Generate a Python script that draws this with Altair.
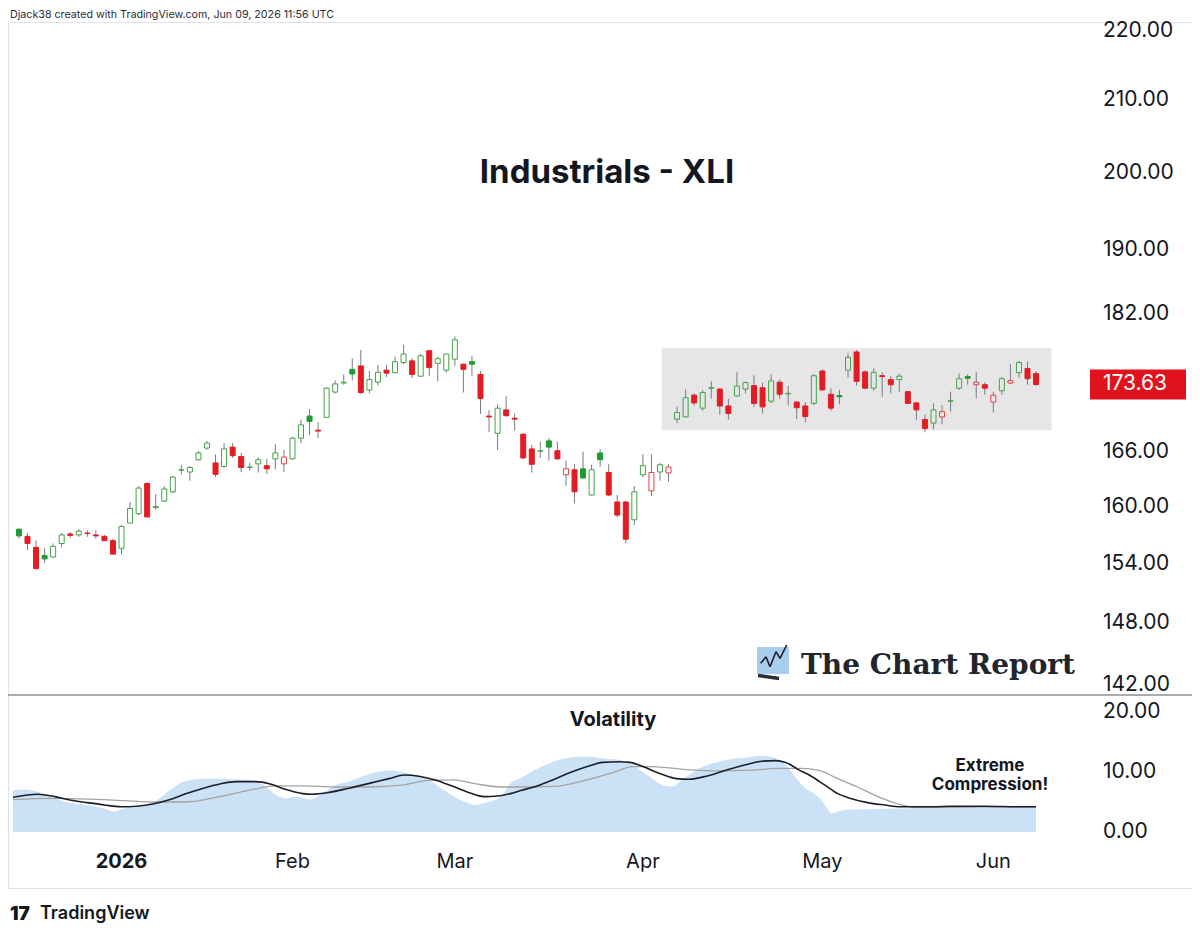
import altair as alt
import pandas as pd

# ---------------- data ----------------
OPEN = [157.6, 156.85, 155.7, 154.85, 154.7, 156.1, 157.1, 157.0, 157.2, 157.0,
        156.85, 156.4, 155.6, 158.25, 159.25, 162.5, 159.9, 160.6, 161.6, 163.95,
        163.75, 165.1, 166.4, 164.75, 164.35, 166.5, 165.45, 164.25, 164.65, 164.45,
        165.2, 164.65, 165.2, 167.5, 170.0, 168.4, 169.85, 172.75, 173.8, 175.4,
        175.8, 173.0, 173.9, 175.3, 175.0, 176.2, 176.4, 174.6, 177.6, 176.1,
        175.3, 176.6, 176.0, 176.3, 174.8, 170.0, 168.05, 170.7, 169.75, 167.95,
        166.3, 166.05, 167.2, 166.1, 163.45, 164.0, 164.1, 161.25, 165.85, 163.7,
        160.5, 160.5, 158.6, 163.45, 161.7, 163.75, 163.65, 169.65, 169.9, 172.4,
        170.9, 173.2, 173.1, 171.15, 172.3, 173.1, 173.5, 173.25, 171.7, 173.9,
        172.55, 171.6, 171.15, 171.45, 175.2, 172.5, 172.35, 175.3, 177.45, 175.1,
        173.2, 174.65, 174.2, 174.2, 172.8, 171.5, 169.6, 169.2, 169.9, 171.7,
        173.2, 174.55, 173.6, 173.6, 171.6, 172.9, 173.8, 175.0, 175.5, 174.9]
HIGH = [157.7, 157.2, 156.4, 155.6, 156.1, 157.2, 157.3, 157.6, 157.5, 157.5,
        157.0, 156.6, 158.0, 160.5, 162.2, 162.6, 161.35, 162.2, 163.35, 164.55,
        164.4, 166.05, 167.2, 165.7, 166.95, 166.95, 165.85, 164.75, 165.4, 165.2,
        166.85, 166.2, 167.65, 169.6, 170.8, 169.3, 173.3, 174.1, 174.8, 176.7,
        177.7, 175.2, 175.9, 175.9, 176.9, 178.3, 176.7, 177.2, 177.7, 176.9,
        177.2, 179.3, 176.1, 177.0, 175.2, 170.7, 171.35, 172.3, 170.3, 168.05,
        166.75, 167.1, 167.5, 167.1, 165.0, 164.6, 166.0, 164.55, 166.3, 164.6,
        161.25, 160.6, 162.2, 165.7, 165.7, 164.75, 164.65, 171.1, 173.05, 172.6,
        173.0, 174.0, 173.2, 172.0, 175.05, 174.0, 174.7, 173.85, 174.8, 174.2,
        173.45, 171.7, 171.6, 174.85, 175.4, 173.2, 173.0, 177.3, 177.7, 175.3,
        175.5, 175.05, 174.6, 174.9, 172.8, 171.6, 170.15, 171.45, 171.25, 172.8,
        174.9, 174.8, 175.05, 173.9, 172.8, 174.5, 176.0, 176.4, 176.3, 175.2]
LOW = [156.6, 155.4, 153.4, 154.1, 154.6, 155.7, 156.7, 156.8, 156.8, 156.6,
       156.35, 154.95, 154.95, 158.2, 159.1, 158.85, 159.7, 160.5, 161.45, 163.45,
       162.8, 165.0, 166.2, 163.2, 164.25, 165.3, 163.75, 163.9, 163.7, 163.55,
       164.05, 163.75, 165.1, 166.95, 167.85, 167.5, 169.8, 172.6, 173.6, 174.1,
       172.5, 172.6, 173.5, 174.5, 174.95, 176.0, 174.4, 174.5, 174.6, 174.0,
       175.0, 175.8, 172.7, 174.6, 170.25, 168.2, 166.2, 169.9, 168.35, 165.2,
       163.7, 165.3, 165.0, 165.1, 162.25, 160.35, 163.0, 161.2, 164.35, 161.15,
       158.85, 156.15, 158.05, 163.2, 161.15, 162.8, 162.7, 169.2, 169.8, 171.2,
       170.6, 172.0, 170.15, 169.6, 172.2, 172.6, 171.05, 170.3, 171.5, 172.0,
       171.2, 169.65, 169.3, 171.25, 172.9, 170.6, 171.35, 174.4, 173.5, 173.1,
       172.9, 172.2, 172.6, 172.8, 171.35, 169.6, 168.15, 168.5, 169.05, 170.5,
       173.0, 173.6, 172.0, 172.45, 170.4, 172.4, 173.7, 174.4, 173.6, 173.45]
CLOSE = [156.9, 156.1, 153.5, 154.5, 155.8, 157.0, 156.95, 157.4, 157.15, 156.9,
         156.4, 155.0, 157.9, 159.8, 162.0, 158.9, 160.0, 161.9, 163.2, 164.0,
         164.25, 165.85, 166.95, 163.5, 166.3, 165.55, 164.25, 164.3, 165.1, 164.1,
         165.85, 165.4, 167.5, 169.0, 169.4, 168.3, 173.2, 173.7, 173.9, 174.85,
         172.7, 174.2, 175.05, 174.95, 176.3, 177.2, 174.8, 177.0, 175.6, 176.65,
         177.2, 178.9, 175.4, 176.0, 172.0, 169.9, 170.9, 170.05, 169.65, 165.3,
         164.6, 166.1, 166.5, 165.2, 164.1, 161.6, 163.1, 164.0, 165.1, 161.25,
         159.1, 156.55, 161.6, 164.45, 163.7, 164.55, 164.3, 170.4, 172.1, 171.5,
         172.7, 173.25, 171.15, 170.3, 173.45, 173.85, 171.45, 171.05, 174.05, 172.5,
         172.6, 170.95, 169.95, 174.65, 173.0, 170.9, 172.2, 176.8, 174.0, 173.2,
         175.05, 174.55, 173.6, 174.6, 171.45, 170.7, 168.6, 170.7, 170.5, 171.75,
         174.3, 174.35, 173.9, 173.2, 172.4, 174.3, 174.1, 176.2, 174.3, 173.63]
PREV_CLOSE = 156.5          # close of the bar before the first visible one
LAST_PRICE = 173.63

# consolidation box (bar index range, price range)
BOX_IDX = [75.2, 120.8]
BOX_PRICE = [177.9, 168.4]

PRICE_TICKS = [142, 148, 154, 160, 166, 182, 190, 200, 210, 220]
VOL_TICKS = [0, 10, 20]

MONTH_IDX = [12, 32, 51, 73, 94, 114]
MONTH_LABELS = ["2026", "Feb", "Mar", "Apr", "May", "Jun"]

# volatility panel (bar index, value)
VOL_AREA_X = [-0.7, 0.7, 2.2, 4.2, 6.1, 8.0, 10.0, 11.1, 12.3, 14.6, 16.1, 17.7, 19.3, 20.8,
              22.7, 24.7, 26.2, 27.7, 28.9, 30.0, 31.2, 32.4, 34.0, 35.5, 37.0, 38.6, 40.1,
              41.6, 43.6, 44.8, 46.3, 47.9, 49.4, 50.9, 52.6, 53.2, 54.9, 56.4, 57.5, 58.7,
              60.7, 62.5, 64.5, 66.5, 68.3, 70.3, 71.8, 73.0, 74.1, 75.3, 76.5, 77.6, 79.2,
              81.1, 83.1, 85.0, 86.9, 88.5, 89.7, 90.8, 92.0, 93.5, 94.7, 95.0, 96.6, 99.3,
              103.1, 107.1, 110.9, 114.7, 117.1, 119.0]
VOL_AREA_Y = [7.0, 7.1, 6.7, 5.6, 4.8, 4.5, 3.9, 3.4, 3.9, 4.3, 5.3, 7.0, 8.4, 8.8,
              8.9, 8.8, 8.7, 8.4, 7.6, 6.2, 5.6, 5.9, 5.4, 6.4, 7.8, 8.4, 9.2,
              9.9, 10.3, 10.0, 9.5, 8.7, 7.3, 5.9, 4.8, 4.5, 5.0, 5.9, 8.1, 9.0,
              10.6, 11.7, 12.4, 12.6, 12.3, 12.0, 11.3, 10.0, 8.9, 7.8, 7.6, 8.7, 10.3,
              11.4, 12.1, 12.4, 12.7, 12.3, 11.2, 9.2, 7.3, 5.9, 3.7, 3.1, 3.7, 3.8,
              3.9, 4.1, 4.2, 4.2, 4.2, 4.2]
VOL_FAST_X = [-0.7, 2.2, 4.2, 6.1, 8.0, 10.0, 11.9, 13.8, 15.8, 17.7, 19.6, 21.6, 23.5, 25.4,
              27.7, 29.4, 31.2, 33.2, 34.3, 36.3, 38.6, 41.0, 43.3, 45.1, 46.8, 48.6, 50.6,
              52.6, 54.4, 56.0, 57.5, 58.7, 60.7, 62.5, 64.5, 66.5, 68.3, 70.3, 71.5, 73.0,
              74.9, 76.9, 78.4, 80.4, 82.7, 85.0, 86.9, 88.5, 89.7, 91.2, 92.7, 94.3, 95.8,
              97.3, 99.3, 101.3, 103.1, 107.1, 108.9, 112.9, 117.1, 119.0]
VOL_FAST_Y = [5.8, 6.3, 5.9, 5.3, 4.9, 4.5, 4.2, 4.3, 4.7, 5.4, 6.4, 7.3, 8.0, 8.4,
              8.4, 8.0, 7.1, 6.4, 6.3, 6.6, 7.3, 8.1, 8.9, 9.5, 9.3, 8.7, 7.7,
              6.6, 5.9, 6.0, 6.4, 6.9, 7.7, 8.7, 9.9, 10.9, 11.6, 11.7, 11.6, 10.9,
              9.8, 8.9, 8.8, 9.3, 10.3, 11.2, 11.8, 11.9, 11.6, 10.4, 9.3, 7.8, 6.4,
              5.6, 4.9, 4.5, 4.2, 4.2, 4.3, 4.3, 4.2, 4.2]
VOL_SLOW_X = [-0.7, 4.2, 10.0, 15.8, 19.6, 23.5, 27.4, 30.0, 33.2, 37.0, 41.0, 44.8, 47.9,
              50.9, 53.2, 56.4, 58.7, 62.5, 66.5, 69.5, 71.8, 74.1, 78.1, 81.9, 85.7, 88.9,
              91.5, 93.5, 95.8, 98.1, 100.5, 102.8, 105.1, 108.9, 112.9, 117.1, 119.0]
VOL_SLOW_Y = [5.4, 5.6, 5.4, 5.0, 5.0, 5.9, 7.1, 7.7, 7.7, 7.5, 7.5, 7.8, 8.6,
              8.7, 8.1, 7.5, 7.5, 7.6, 8.7, 9.9, 10.9, 10.9, 10.4, 10.2, 10.3, 10.6,
              10.6, 10.3, 8.9, 7.5, 5.9, 4.7, 4.1, 4.1, 4.2, 4.2, 4.2]

# ---------------- frames ----------------
prev = [PREV_CLOSE] + CLOSE[:-1]
kinds = []
for o, c, p in zip(OPEN, CLOSE, prev):
    kinds.append(("up" if c >= p else "down") + "_" + ("hollow" if c > o else "filled"))

candles = pd.DataFrame({
    "i": list(range(len(OPEN))), "o": OPEN, "h": HIGH, "l": LOW, "c": CLOSE, "kind": kinds,
})
candles["top"] = candles[["o", "c"]].max(axis=1)
candles["bot"] = candles[["o", "c"]].min(axis=1)

wicks = pd.concat([
    pd.DataFrame({"i": candles["i"], "a": candles["top"], "b": candles["h"]}),
    pd.DataFrame({"i": candles["i"], "a": candles["l"], "b": candles["bot"]}),
])

box_df = pd.DataFrame({"x0": [BOX_IDX[0]], "x1": [BOX_IDX[1]], "top": [BOX_PRICE[0]], "bot": [BOX_PRICE[1]]})
ptick_df = pd.DataFrame({"v": PRICE_TICKS, "t": [f"{v:.2f}" for v in PRICE_TICKS]})
vtick_df = pd.DataFrame({"v": VOL_TICKS, "t": [f"{v:.2f}" for v in VOL_TICKS]})
last_df = pd.DataFrame({"v": [LAST_PRICE], "t": [f"{LAST_PRICE:.2f}"]})
month_df = pd.DataFrame({"i": MONTH_IDX, "t": MONTH_LABELS, "k": list(range(len(MONTH_IDX)))})
area_df = pd.DataFrame({"x": VOL_AREA_X, "v": VOL_AREA_Y, "z": 0})
fast_df = pd.DataFrame({"x": VOL_FAST_X, "v": VOL_FAST_Y})
slow_df = pd.DataFrame({"x": VOL_SLOW_X, "v": VOL_SLOW_Y})

# ---------------- scales & styling ----------------
W, H = 1184, 866
X_SCALE = alt.Scale(domain=[-0.696, 136.66], nice=False, zero=False)
PRICE_SCALE = alt.Scale(type="log", domain=[141.05, 221.3], range=[673, 0], nice=False, zero=False)
VOL_SCALE = alt.Scale(domain=[0, 20], range=[810, 690], nice=False, zero=False)

GREEN_FILL = "#1e9a33"
GREEN_LINE = "#43a347"
RED = "#e31c24"
RED_LINE = "#e6434b"
KINDS = ["up_hollow", "up_filled", "down_hollow", "down_filled"]
FILLS = ["transparent", GREEN_FILL, "transparent", RED]
STROKES = [GREEN_LINE, GREEN_FILL, RED_LINE, RED]
TXT = "#131722"
FONT = "Inter"


def xq(field):
    return alt.X(field, scale=X_SCALE, axis=None)


def yp(field):
    return alt.Y(field, scale=PRICE_SCALE, axis=None)


def yv(field):
    return alt.Y(field, scale=VOL_SCALE, axis=None)


def label(text, x, y, size, weight="normal", align="center", color=TXT, font=FONT, baseline="middle"):
    return alt.Chart(pd.DataFrame({"t": [text]})).mark_text(
        align=align, baseline=baseline, fontSize=size, fontWeight=weight, font=font, color=color
    ).encode(x=alt.value(x), y=alt.value(y), text="t:N")


box = alt.Chart(box_df).mark_rect(color="#e6e6e6").encode(
    x=xq("x0:Q"), x2="x1:Q", y=yp("top:Q"), y2="bot:Q")

wick = alt.Chart(wicks).mark_rule(color="#787b86", strokeWidth=1).encode(
    x=xq("i:Q"), y=yp("a:Q"), y2="b:Q")

body = alt.Chart(candles).mark_bar(size=5, strokeWidth=1).encode(
    x=xq("i:Q"), y=yp("top:Q"), y2="bot:Q",
    fill=alt.Fill("kind:N", scale=alt.Scale(domain=KINDS, range=FILLS), legend=None),
    stroke=alt.Stroke("kind:N", scale=alt.Scale(domain=KINDS, range=STROKES), legend=None),
)

plabels = alt.Chart(ptick_df).mark_text(align="left", baseline="middle", fontSize=21, font=FONT, color=TXT).encode(
    x=alt.value(1095), y=yp("v:Q"), text="t:N")

last_box = alt.Chart(last_df).mark_rect(color="#e0121e", yOffset=-15, y2Offset=15).encode(
    x=alt.value(1082), x2=alt.value(1178), y=yp("v:Q"), y2="v:Q")
last_txt = alt.Chart(last_df).mark_text(align="left", baseline="middle", fontSize=21, font=FONT, color="white").encode(
    x=alt.value(1095), y=yp("v:Q"), text="t:N")

divider = alt.Chart(pd.DataFrame({"a": [0]})).mark_rule(color="#8e9098", strokeWidth=1.5).encode(
    x=alt.value(0), x2=alt.value(W), y=alt.value(673))

area = alt.Chart(area_df).mark_area(color="#cbe2f6", interpolate="monotone").encode(
    x=xq("x:Q"), y=yv("v:Q"), y2="z:Q")
slow = alt.Chart(slow_df).mark_line(color="#a3a3a3", strokeWidth=1.3, interpolate="monotone").encode(
    x=xq("x:Q"), y=yv("v:Q"))
fast = alt.Chart(fast_df).mark_line(color="#1c1f2a", strokeWidth=1.6, interpolate="monotone").encode(
    x=xq("x:Q"), y=yv("v:Q"))
vlabels = alt.Chart(vtick_df).mark_text(align="left", baseline="middle", fontSize=21, font=FONT, color=TXT).encode(
    x=alt.value(1095), y=yv("v:Q"), text="t:N")

months_bold = alt.Chart(month_df).transform_filter("datum.k == 0").mark_text(
    align="center", baseline="middle", fontSize=20, fontWeight="bold", font=FONT, color=TXT).encode(
    x=xq("i:Q"), y=alt.value(840), text="t:N")
months = alt.Chart(month_df).transform_filter("datum.k > 0").mark_text(
    align="center", baseline="middle", fontSize=20, font=FONT, color=TXT).encode(
    x=xq("i:Q"), y=alt.value(840), text="t:N")

# logo of The Chart Report (pixel decoration)
logo_sq = alt.Chart(pd.DataFrame({"a": [0]})).mark_rect(color="#a9cdee").encode(
    x=alt.value(749), x2=alt.value(781), y=alt.value(625), y2=alt.value(652))
zig_pts = [(752.7, 641.3), (758, 634.7), (762, 644.7), (768, 629.7), (772, 636.3), (778.7, 623)]
zig = []
for (xa, ya), (xb, yb) in zip(zig_pts[:-1], zig_pts[1:]):
    zig.append(alt.Chart(pd.DataFrame({"a": [0]})).mark_rule(color="#1c1f2a", strokeWidth=1.6).encode(
        x=alt.value(xa), y=alt.value(ya), x2=alt.value(xb), y2=alt.value(yb)))
flag = alt.Chart(pd.DataFrame({"a": [0]})).mark_rule(color="#2a2e39", strokeWidth=3.5).encode(
    x=alt.value(750), y=alt.value(653.5), x2=alt.value(771), y2=alt.value(656.5))

texts = [
    label("Djack38 created with TradingView.com, Jun 09, 2026 11:56 UTC", 2, -7, 10.7, align="left", color="#2a2e39"),
    label("Industrials - XLI", 599, 151, 33, weight="bold"),
    label("Volatility", 605, 698, 20, weight="bold"),
    label("Extreme", 982, 744, 17, weight="bold"),
    label("Compression!", 982, 763, 17, weight="bold"),
    label("The Chart Report", 793, 652, 28, weight="bold", align="left", font="DejaVu Serif",
          color="#22252c", baseline="alphabetic"),
    label("17", 2, 892, 19, weight=900, align="left", color="#131722"),
    label("TradingView", 32, 892, 18, weight=600, align="left", color="#131722"),
]

chart = alt.layer(
    box, wick, body, plabels, last_box, last_txt, divider,
    area, slow, fast, vlabels, months_bold, months,
    logo_sq, *zig, flag, *texts,
).resolve_scale(y="independent", fill="independent", stroke="independent").properties(
    width=W, height=H,
    autosize=alt.AutoSizeParams(type="none"),
    padding={"left": 0, "top": 14, "right": 0, "bottom": 40},
).configure_view(stroke="#e0e3eb", strokeWidth=1)

chart.save("out.html", embed_options={"renderer": "svg", "actions": False})
